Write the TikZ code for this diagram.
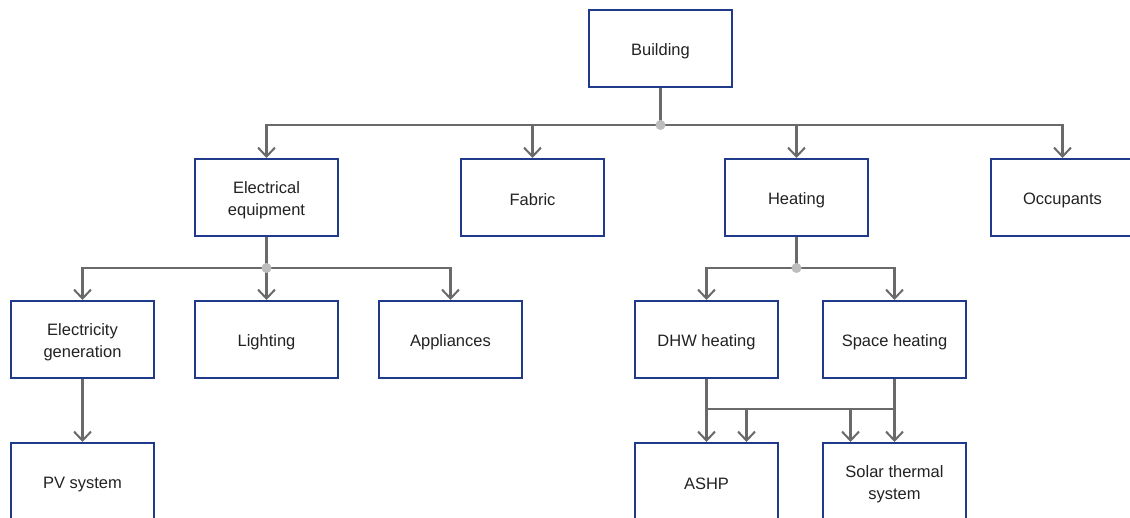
\documentclass[tikz,border=0pt]{standalone}
\usepackage{fontspec}
\setmainfont{Liberation Sans}
\usetikzlibrary{arrows.meta}
\definecolor{boxblue}{HTML}{1F3A8A}
\definecolor{conngray}{HTML}{6A6A6A}
\definecolor{dotgray}{HTML}{BDBDBD}
\definecolor{txt}{HTML}{222222}
\newcommand\twolines[2]{\rule{0pt}{32pt}\begin{tabular}{@{}c@{}}#1\\#2\end{tabular}}
\begin{document}
\begin{tikzpicture}[x=1pt,y=-1pt,
  box/.style={draw=boxblue,line width=2pt,fill=white,minimum width=143pt,minimum height=77pt,
    align=center,text=txt,inner sep=2pt,font=\fontsize{16.5}{22}\selectfont},
  onebox/.style={box,execute at begin node={\rule{0pt}{17pt}}},
  conn/.style={draw=conngray,line width=2.5pt},
  arr/.style={conn,-{Straight Barb[length=9pt,width=17pt,line width=2pt]}},
  jdot/.style={circle,fill=dotgray,inner sep=0pt,minimum size=10pt}]
\clip (0,0) rectangle (1130,517);
\fill[white] (0,0) rectangle (1130,517);
% nodes
\node[onebox] (b) at (660.5,48.5) {Building};
\node[box] (ee) at (266.5,197.5) {\twolines{Electrical}{equipment}};
\node[onebox] (fab) at (532.5,197.5) {Fabric};
\node[onebox] (heat) at (796.5,197.5) {Heating};
\node[onebox] (occ) at (1062.5,197.5) {Occupants};
\node[box] (eg) at (82.5,339.5) {\twolines{Electricity}{generation}};
\node[onebox] (light) at (266.5,339.5) {Lighting};
\node[onebox] (app) at (450.5,339.5) {Appliances};
\node[onebox] (dhw) at (706.5,339.5) {DHW heating};
\node[onebox] (space) at (894.5,339.5) {Space heating};
\node[onebox] (pv) at (82.5,481.5) {PV system};
\node[onebox] (ashp) at (706.5,481.5) {ASHP};
\node[box] (solar) at (894.5,481.5) {\twolines{Solar thermal}{system}};
% junctions
\coordinate (j1) at (660.5,125);
\coordinate (j2) at (266.5,268);
\coordinate (j3) at (796.5,268);
\coordinate (k1) at (706.5,409);
\coordinate (k2) at (894.5,409);
\coordinate (k3) at (746.5,409);
\coordinate (k4) at (850.5,409);
% connectors level 1
\draw[conn] (b.south) -- (j1);
\draw[arr] (j1) -| (ee.north);
\draw[arr] (j1) -| (fab.north);
\draw[arr] (j1) -| (heat.north);
\draw[arr] (j1) -| (occ.north);
% electrical equipment
\draw[conn] (ee.south) -- (j2);
\draw[arr] (j2) -| (eg.north);
\draw[arr] (j2) -- (light.north);
\draw[arr] (j2) -| (app.north);
% heating
\draw[conn] (heat.south) -- (j3);
\draw[arr] (j3) -| (dhw.north);
\draw[arr] (j3) -| (space.north);
% electricity generation
\draw[arr] (eg.south) -- (pv.north);
% DHW / space heating
\draw[conn] (dhw.south) -- (k1) -- (k2);
\draw[conn] (space.south) -- (k2);
\draw[arr] (k1) -- (ashp.north);
\draw[arr] (k3) -- (k3 |- ashp.north);
\draw[arr] (k4) -- (k4 |- solar.north);
\draw[arr] (k2) -- (solar.north);
% dots
\node[jdot] (d1) at (j1) {};
\node[jdot] (d2) at (j2) {};
\node[jdot] (d3) at (j3) {};
\end{tikzpicture}
\end{document}
